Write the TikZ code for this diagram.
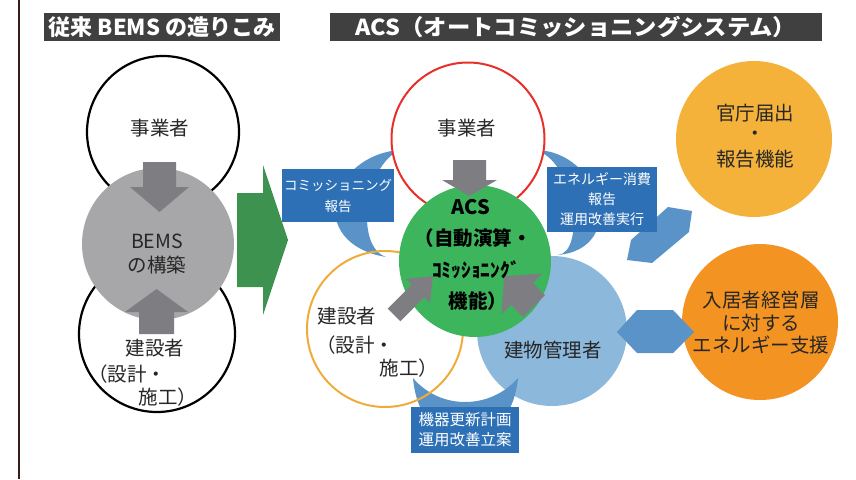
\documentclass[tikz,border=0pt]{standalone}
\usepackage{fontspec}
\newfontfamily\jp{Noto Sans CJK JP}
\definecolor{hdrgray}{HTML}{404040}
\definecolor{vlinec}{HTML}{3A1A1A}
\definecolor{bemsgray}{HTML}{A7A7A9}
\definecolor{arrgray}{HTML}{7E7D82}
\definecolor{bigarrgreen}{HTML}{3C924E}
\definecolor{acsgreen}{HTML}{3CB55D}
\definecolor{mgrblue}{HTML}{8CB8DC}
\definecolor{boxblue}{HTML}{2D70B5}
\definecolor{crblue}{HTML}{5A93C8}
\definecolor{redline}{HTML}{E8302A}
\definecolor{orline}{HTML}{F0AC3A}
\definecolor{govorange}{HTML}{F4B23A}
\definecolor{tenorange}{HTML}{F39322}
\tikzset{
  hdr/.style={fill=hdrgray, text=white, inner sep=0pt, font=\jp\bfseries\fontsize{22}{24}\selectfont},
  ring/.style={circle, inner sep=0pt, minimum size=#1},
  lbl/.style={inner sep=0pt, font=\jp\fontsize{19.5}{22}\selectfont, text=black!85},
  acslbl/.style={inner sep=0pt, font=\jp\bfseries\fontsize{19.5}{22}\selectfont, text=black},
  bluebox/.style={fill=boxblue, text=white, inner sep=0pt, align=center},
  grayarrow/.style={fill=arrgray},
  crescent/.style={fill=crblue},
}
\begin{document}
\begin{tikzpicture}[x=1pt,y=-1pt]
\useasboundingbox (0,0) rectangle (856,479);
% left vertical rule
\coordinate (vtop) at (19,0);
\coordinate (vbot) at (19,479);
\draw[vlinec, line width=1.2pt] (vtop) -- (vbot);
% headers
\node[hdr, minimum width=236pt, minimum height=28pt] (hdrA) at (162,27) {従来 BEMS の造りこみ};
\node[hdr, minimum width=492pt, minimum height=28pt] (hdrB) at (576,27) {\scalebox{1.06}[1]{ACS（オートコミッショニングシステム）}};

% ---------- left: conventional BEMS ----------
\node[ring=152pt, draw=black, line width=2.2pt, fill=white] (bizL) at (163,132) {};
\node[ring=156pt, draw=black, line width=2.2pt, fill=white] (conL) at (157,334) {};
\node[ring=152pt, fill=bemsgray] (bems) at (158,244) {};
\fill[grayarrow] (143,162) -- (176,162) -- (176,187) -- (189,187) -- (159.5,212) -- (130,187) -- (143,187) -- cycle;
\fill[grayarrow] (139,334) -- (174,334) -- (174,312) -- (188,312) -- (156.5,289) -- (125,312) -- (139,312) -- cycle;
\node[lbl] (bizLt) at (160,128) {事業者};
\node[lbl] (bemsA) at (157,241) {BEMS};
\node[lbl] (bemsB) at (157,265) {の構築};
\node[lbl] (conLa) at (155,348) {建設者};
\node[lbl] (conLb) at (127,374) {（設計・};
\node[lbl] (conLc) at (168,397) {施工）};

% big green arrow
\fill[bigarrgreen] (237,193) -- (263,193) -- (263,165) -- (288,240) -- (263,315) -- (263,287) -- (237,287) -- cycle;

% ---------- right: ACS ----------
\node[ring=150pt, fill=mgrblue] (mgr) at (552,331) {};
% crescents
\fill[crescent] (400,150) .. controls (330,155) and (304,243) .. (386,257) .. controls (354,246) and (365,165) .. (400,150) -- cycle;
\fill[crescent] (535,150) .. controls (600,150) and (630,248) .. (558,255) .. controls (586,252) and (575,160) .. (535,150) -- cycle;
\fill[crescent] (413,378) .. controls (420,460) and (510,460) .. (518,378) .. controls (490,410) and (440,410) .. (413,378) -- cycle;
% tilted hexagon
\fill[crescent] (668,207) -- (692,211) -- (689,232) -- (652,263) -- (627,260) -- (631,240) -- cycle;
% circles
\node[ring=153pt, draw=redline, line width=2pt, fill=white] (bizR) at (468,139) {};
\node[ring=156pt, draw=orline, line width=2pt] (conR) at (385,329) {};
\node[ring=152pt, fill=acsgreen] (acs) at (475,261) {};
\node[ring=156pt, fill=govorange] (gov) at (754,139) {};
\node[ring=156pt, fill=tenorange] (ten) at (760,322) {};
% horizontal hexagon
\fill[crescent] (617,332) -- (637,310) -- (673,310) -- (694,332) -- (673,353) -- (637,353) -- cycle;
% gray arrows
\fill[grayarrow] (453,160) -- (486,160) -- (486,180) -- (497,180) -- (469.5,196) -- (442,180) -- (453,180) -- cycle;
\begin{scope}[shift={(394,315)}, rotate=45]
\fill[grayarrow] (0,-9) -- (34,-9) -- (34,-17) -- (55,0) -- (34,17) -- (34,9) -- (0,9) -- cycle;
\end{scope}
\begin{scope}[shift={(534,306)}, rotate=135]
\fill[grayarrow] (0,-15.5) -- (17,-15.5) -- (17,-29) -- (42,0) -- (17,29) -- (17,15.5) -- (0,15.5) -- cycle;
\end{scope}
% blue label boxes
\node[bluebox, minimum width=112pt, minimum height=53pt, font=\jp\fontsize{13.5}{21}\selectfont] (boxL) at (338,195.5) {コミッショニング\\報告};
\node[bluebox, minimum width=110pt, minimum height=65pt, font=\jp\fontsize{14}{20}\selectfont] (boxR) at (602,199.5) {エネルギー消費\\報告\\運用改善実行};
\node[bluebox, minimum width=108pt, minimum height=46pt, font=\jp\fontsize{15.5}{20}\selectfont] (boxB) at (465,430) {機器更新計画\\運用改善立案};
% texts
\node[lbl] (bizRt) at (467,128) {事業者};
\node[acslbl, font=\jp\bfseries\fontsize{20}{22}\selectfont] (acsA) at (471,207) {ACS};
\node[acslbl] (acsB) at (473,238) {（自動演算・};
\node[acslbl] (acsC) at (476,270) {ｺﾐｯｼｮﾆﾝｸﾞ};
\node[acslbl] (acsD) at (478,301) {機能）};
\node[lbl] (conRa) at (347,316) {建設者};
\node[lbl] (conRb) at (355,345) {（設計・};
\node[lbl] (conRc) at (409,368) {施工）};
\node[lbl] (mgrt) at (553,350) {建物管理者};
\node[lbl] (govA) at (755,113) {官庁届出};
\node[lbl] (govB) at (755,136) {・};
\node[lbl] (govC) at (755,159) {報告機能};
\node[lbl] (tenA) at (761,300) {入居者経営層};
\node[lbl] (tenB) at (761,323) {に対する};
\node[lbl] (tenC) at (761,345) {エネルギー支援};
\end{tikzpicture}
\end{document}
